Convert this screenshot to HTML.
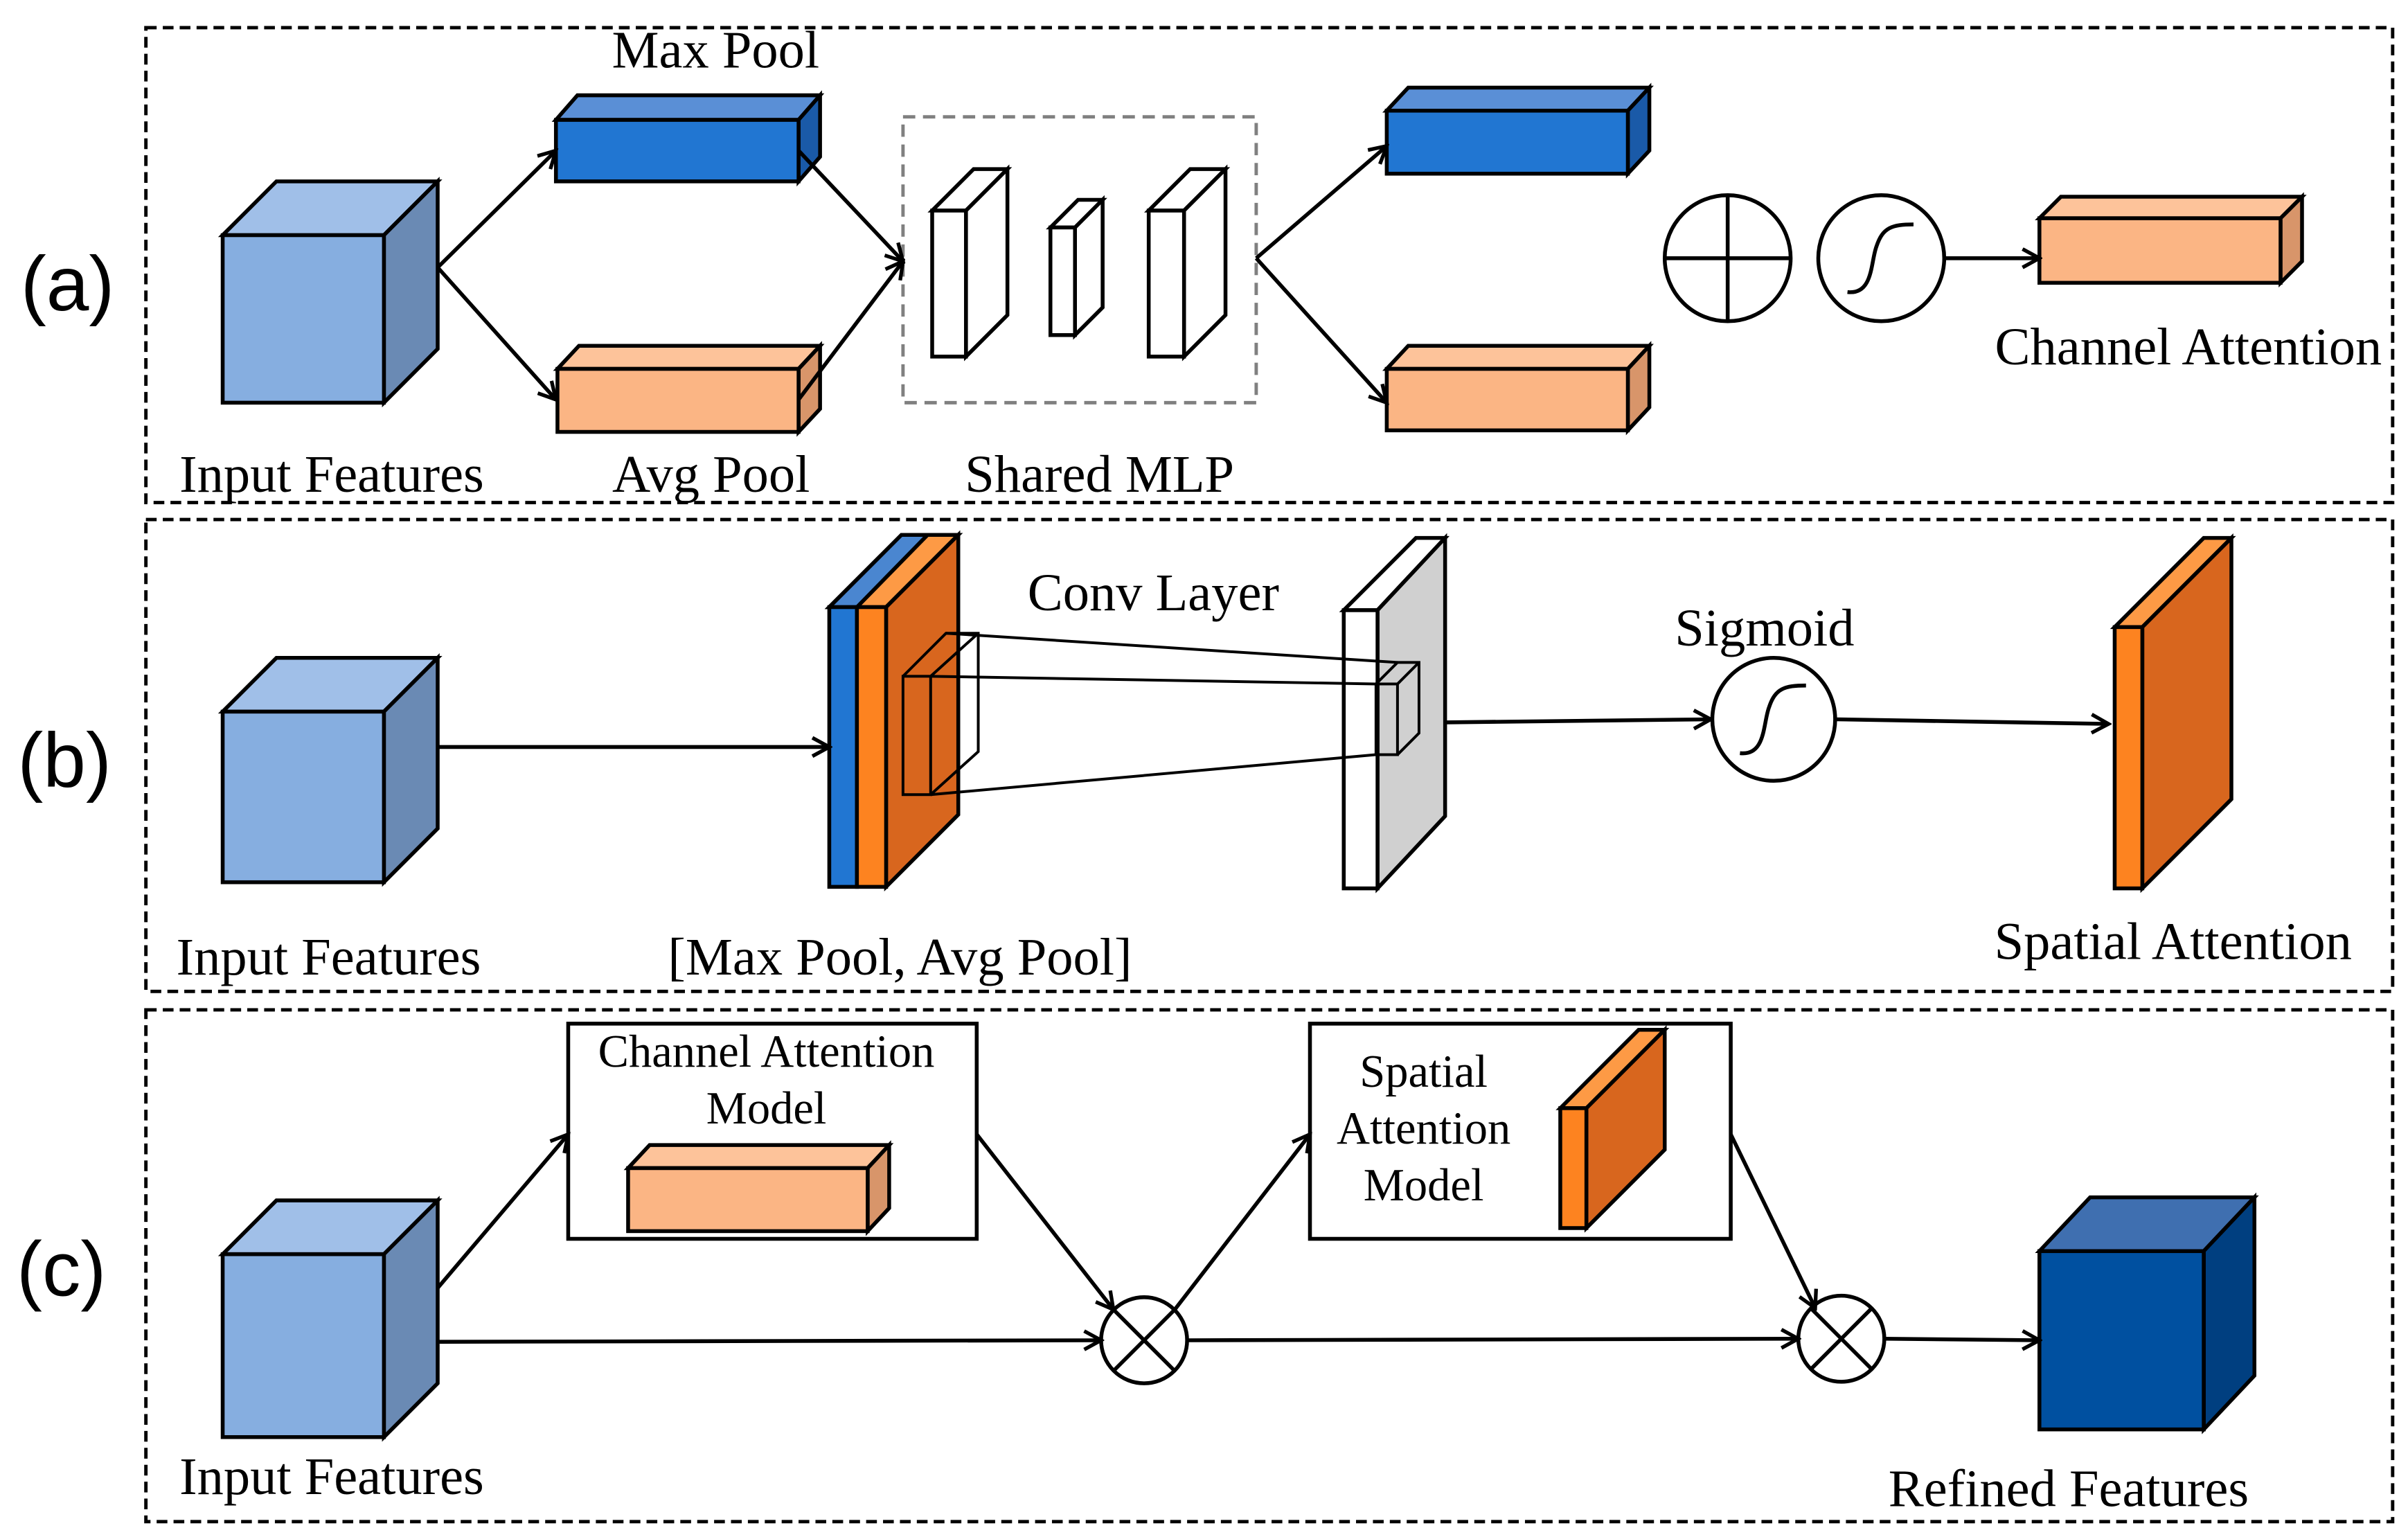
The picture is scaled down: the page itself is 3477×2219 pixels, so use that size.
<!DOCTYPE html>
<html><head><style>html,body{margin:0;padding:0;background:#fff}svg{display:block}</style></head><body>
<svg width="3477" height="2219" viewBox="0 0 1568 1000" preserveAspectRatio="none" xmlns="http://www.w3.org/2000/svg" font-family="'Liberation Serif',serif">
<defs>
<marker id="a" markerWidth="14" markerHeight="14" refX="12" refY="7" orient="auto" markerUnits="userSpaceOnUse"><path d="M1,1 L12,7 L1,13" fill="none" stroke="#000" stroke-width="2.4"/></marker>
</defs>
<g fill="none" stroke="#000" stroke-width="2.2" stroke-dasharray="7,4">
<rect x="95" y="18" width="1463" height="309"/>
<rect x="95" y="338" width="1463" height="307"/>
<rect x="95" y="657" width="1463" height="333"/>
</g>
<g font-family="'Liberation Sans',sans-serif" font-size="50" text-anchor="middle">
<text x="44" y="202">(a)</text><text x="42" y="512">(b)</text><text x="40" y="843">(c)</text>
</g>
<g stroke="#000" stroke-width="2.5">
<polygon points="145,153 180,118 285,118 250,153" fill="#a0bfe8"/>
<polygon points="250,153 285,118 285,227 250,262" fill="#6a8ab4"/>
<rect x="145" y="153" width="105" height="109" fill="#86aee0"/>
<polygon points="362,78 376,62 534,62 520,78" fill="#5a8fd6"/>
<polygon points="520,78 534,62 534,102 520,118" fill="#1a5aa8"/>
<rect x="362" y="78" width="158" height="40" fill="#2176d2"/>
<polygon points="363,240 377,225 534,225 520,240" fill="#fdc39a"/>
<polygon points="520,240 534,225 534,266 520,281" fill="#d8956a"/>
<rect x="363" y="240" width="157" height="41" fill="#fbb584"/>
<polygon points="607,137 634,110 656,110 629,137" fill="#fff"/><polygon points="629,137 656,110 656,205 629,232" fill="#fff"/><rect x="607" y="137" width="22" height="95" fill="#fff"/>
<polygon points="684,148 702,130 718,130 700,148" fill="#fff"/><polygon points="700,148 718,130 718,200 700,218" fill="#fff"/><rect x="684" y="148" width="16" height="70" fill="#fff"/>
<polygon points="748,137 775,110 798,110 771,137" fill="#fff"/><polygon points="771,137 798,110 798,205 771,232" fill="#fff"/><rect x="748" y="137" width="23" height="95" fill="#fff"/>
<polygon points="903,72 917,57 1074,57 1060,72" fill="#5a8fd6"/><polygon points="1060,72 1074,57 1074,98 1060,113" fill="#1a5aa8"/><rect x="903" y="72" width="157" height="41" fill="#2176d2"/>
<polygon points="903,240 917,225 1074,225 1060,240" fill="#fdc39a"/><polygon points="1060,240 1074,225 1074,265 1060,280" fill="#d8956a"/><rect x="903" y="240" width="157" height="40" fill="#fbb584"/>
<polygon points="1328,142 1342,128 1499,128 1485,142" fill="#fdc39a"/><polygon points="1485,142 1499,128 1499,170 1485,184" fill="#d8956a"/><rect x="1328" y="142" width="157" height="42" fill="#fbb584"/>
</g>
<rect x="588" y="76" width="230" height="186" fill="none" stroke="#808080" stroke-width="2.2" stroke-dasharray="8,5"/>
<g stroke="#000" stroke-width="2.5" fill="none">
<line x1="285" y1="174" x2="362" y2="98" marker-end="url(#a)"/>
<line x1="285" y1="174" x2="362" y2="260" marker-end="url(#a)"/>
<line x1="520" y1="98" x2="588" y2="170" marker-end="url(#a)"/>
<line x1="520" y1="260" x2="588" y2="170" marker-end="url(#a)"/>
<line x1="818" y1="168" x2="903" y2="95" marker-end="url(#a)"/>
<line x1="818" y1="168" x2="903" y2="262" marker-end="url(#a)"/>
<circle cx="1125" cy="168" r="41"/><line x1="1084" y1="168" x2="1166" y2="168"/><line x1="1125" y1="127" x2="1125" y2="209"/>
<circle cx="1225" cy="168" r="41"/><path d="M1203,190 C1220,192 1218,170 1222,160 C1226,148 1232,146 1246,146"/>
<line x1="1266" y1="168" x2="1328" y2="168" marker-end="url(#a)"/>
</g>
<g font-size="34.5" text-anchor="middle">
<text x="466" y="44">Max Pool</text>
<text x="216" y="320">Input Features</text>
<text x="463" y="320">Avg Pool</text>
<text x="716" y="320">Shared MLP</text>
<text x="1425" y="237">Channel Attention</text>
</g>
<g stroke="#000" stroke-width="2.5">
<polygon points="145,463 180,428 285,428 250,463" fill="#a0bfe8"/>
<polygon points="250,463 285,428 285,539 250,574" fill="#6a8ab4"/>
<rect x="145" y="463" width="105" height="111" fill="#86aee0"/>
<polygon points="540,395 587,348 624,348 577,395" fill="#fd9a45"/>
<polygon points="540,395 587,348 604,348 558,395" fill="#4a86d0"/>
<polygon points="577,395 624,348 624,530 577,577" fill="#d8661e"/>
<rect x="540" y="395" width="18" height="182" fill="#2176d2"/>
<rect x="558" y="395" width="19" height="182" fill="#fd8320"/>
<polygon points="875,397 922,350 941,350 897,397" fill="#fff"/>
<polygon points="897,397 941,350 941,531 897,578" fill="#d0d0d0"/>
<rect x="875" y="397" width="22" height="181" fill="#fff"/>
<polygon points="1377,408 1435,350 1453,350 1395,408" fill="#fd9a45"/>
<polygon points="1395,408 1453,350 1453,520 1395,578" fill="#d8661e"/>
<rect x="1377" y="408" width="18" height="170" fill="#fd8320"/>
</g>
<g stroke="#000" stroke-width="1.8" fill="none">
<rect x="588" y="440" width="18" height="77"/>
<polyline points="588,440 616,412 637,412 637,489 606,517"/>
<line x1="606" y1="440" x2="637" y2="412"/>
<rect x="896" y="445" width="14" height="46"/>
<polyline points="896,445 910,431 924,431 924,477 910,491"/>
<line x1="910" y1="445" x2="924" y2="431"/>
<line x1="616" y1="412" x2="910" y2="431"/>
<line x1="606" y1="440" x2="896" y2="445"/>
<line x1="606" y1="517" x2="896" y2="491"/>
</g>
<g stroke="#000" stroke-width="2.5" fill="none">
<line x1="285" y1="486" x2="540" y2="486" marker-end="url(#a)"/>
<line x1="941" y1="470" x2="1114" y2="468" marker-end="url(#a)"/>
<circle cx="1155" cy="468" r="40"/><path d="M1133,490 C1150,492 1148,470 1152,460 C1156,448 1162,446 1176,446"/>
<line x1="1196" y1="468" x2="1373" y2="471" marker-end="url(#a)"/>
</g>
<g font-size="34.5" text-anchor="middle">
<text x="751" y="397">Conv Layer</text>
<text x="1149" y="420">Sigmoid</text>
<text x="214" y="634">Input Features</text>
<text x="586" y="634">[Max Pool, Avg Pool]</text>
<text x="1415" y="624">Spatial Attention</text>
</g>
<g stroke="#000" stroke-width="2.5">
<polygon points="145,816 180,781 285,781 250,816" fill="#a0bfe8"/>
<polygon points="250,816 285,781 285,900 250,935" fill="#6a8ab4"/>
<rect x="145" y="816" width="105" height="119" fill="#86aee0"/>
<rect x="370" y="666" width="266" height="140" fill="#fff"/>
<rect x="853" y="666" width="274" height="140" fill="#fff"/>
<polygon points="409,760 423,745 579,745 565,760" fill="#fdc39a"/><polygon points="565,760 579,745 579,786 565,801" fill="#d8956a"/><rect x="409" y="760" width="156" height="41" fill="#fbb584"/>
<polygon points="1016,721 1067,670 1084,670 1033,721" fill="#fd9a45"/><polygon points="1033,721 1084,670 1084,748 1033,799" fill="#d8661e"/><rect x="1016" y="721" width="17" height="78" fill="#fd8320"/>
<polygon points="1328,814 1361,779 1468,779 1435,814" fill="#3f6fb0"/>
<polygon points="1435,814 1468,779 1468,895 1435,930" fill="#003f80"/>
<rect x="1328" y="814" width="107" height="116" fill="#0050a0"/>
</g>
<g stroke="#000" stroke-width="2.5" fill="none">
<line x1="285" y1="838" x2="370" y2="738" marker-end="url(#a)"/>
<line x1="636" y1="738" x2="725" y2="852" marker-end="url(#a)"/>
<circle cx="745" cy="872" r="28"/><line x1="725" y1="852" x2="765" y2="892"/><line x1="765" y1="852" x2="725" y2="892"/>
<line x1="765" y1="852" x2="853" y2="738" marker-end="url(#a)"/>
<line x1="1127" y1="738" x2="1182" y2="851" marker-end="url(#a)"/>
<circle cx="1199" cy="871" r="28"/><line x1="1179" y1="851" x2="1219" y2="891"/><line x1="1219" y1="851" x2="1179" y2="891"/>
<line x1="285" y1="873" x2="717" y2="872" marker-end="url(#a)"/>
<line x1="773" y1="872" x2="1171" y2="871" marker-end="url(#a)"/>
<line x1="1227" y1="871" x2="1328" y2="872" marker-end="url(#a)"/>
</g>
<g font-size="30" text-anchor="middle">
<text x="499" y="694">Channel Attention</text>
<text x="499" y="731">Model</text>
<text x="927" y="707">Spatial</text>
<text x="927" y="744">Attention</text>
<text x="927" y="781">Model</text>
</g>
<g font-size="34.5" text-anchor="middle">
<text x="216" y="972">Input Features</text>
<text x="1347" y="980">Refined Features</text>
</g>
</svg>
</body></html>
